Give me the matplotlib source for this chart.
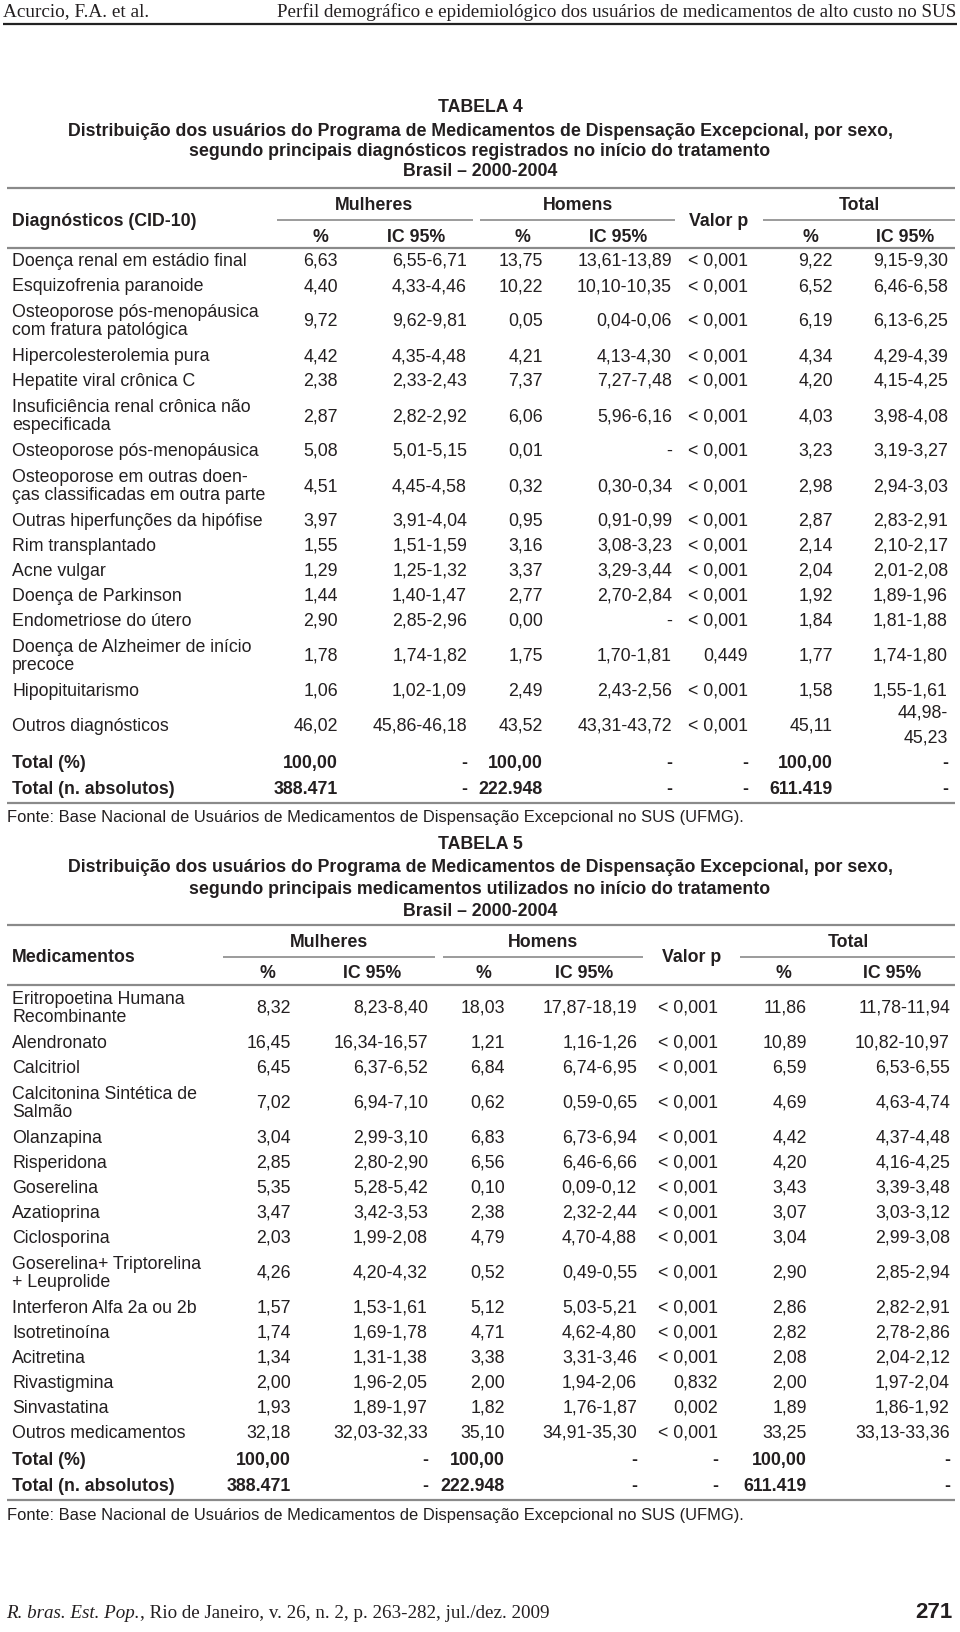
import matplotlib
matplotlib.use("Agg")
import matplotlib.pyplot as plt

# ---------------- Tabela 4 ----------------
diagnosticos = [
    "Doença renal em estádio final",
    "Esquizofrenia paranoide",
    "Osteoporose pós-menopáusica\ncom fratura patológica",
    "Hipercolesterolemia pura",
    "Hepatite viral crônica C",
    "Insuficiência renal crônica não\nespecificada",
    "Osteoporose pós-menopáusica",
    "Osteoporose em outras doen-\nças classificadas em outra parte",
    "Outras hiperfunções da hipófise",
    "Rim transplantado",
    "Acne vulgar",
    "Doença de Parkinson",
    "Endometriose do útero",
    "Doença de Alzheimer de início\nprecoce",
    "Hipopituitarismo",
    "Outros diagnósticos",
]
mulheres_pct4 = ["6,63", "4,40", "9,72", "4,42", "2,38", "2,87", "5,08", "4,51",
                 "3,97", "1,55", "1,29", "1,44", "2,90", "1,78", "1,06", "46,02"]
mulheres_ic4 = ["6,55-6,71", "4,33-4,46", "9,62-9,81", "4,35-4,48", "2,33-2,43",
                "2,82-2,92", "5,01-5,15", "4,45-4,58", "3,91-4,04", "1,51-1,59",
                "1,25-1,32", "1,40-1,47", "2,85-2,96", "1,74-1,82", "1,02-1,09",
                "45,86-46,18"]
homens_pct4 = ["13,75", "10,22", "0,05", "4,21", "7,37", "6,06", "0,01", "0,32",
               "0,95", "3,16", "3,37", "2,77", "0,00", "1,75", "2,49", "43,52"]
homens_ic4 = ["13,61-13,89", "10,10-10,35", "0,04-0,06", "4,13-4,30", "7,27-7,48",
              "5,96-6,16", "-", "0,30-0,34", "0,91-0,99", "3,08-3,23", "3,29-3,44",
              "2,70-2,84", "-", "1,70-1,81", "2,43-2,56", "43,31-43,72"]
valor_p4 = ["< 0,001"] * 13 + ["0,449", "< 0,001", "< 0,001"]
total_pct4 = ["9,22", "6,52", "6,19", "4,34", "4,20", "4,03", "3,23", "2,98",
              "2,87", "2,14", "2,04", "1,92", "1,84", "1,77", "1,58", "45,11"]
total_ic4 = ["9,15-9,30", "6,46-6,58", "6,13-6,25", "4,29-4,39", "4,15-4,25",
             "3,98-4,08", "3,19-3,27", "2,94-3,03", "2,83-2,91", "2,10-2,17",
             "2,01-2,08", "1,89-1,96", "1,81-1,88", "1,74-1,80", "1,55-1,61",
             "44,98-\n45,23"]
totais4 = [["Total (%)", "100,00", "-", "100,00", "-", "-", "100,00", "-"],
           ["Total (n. absolutos)", "388.471", "-", "222.948", "-", "-", "611.419", "-"]]

# ---------------- Tabela 5 ----------------
medicamentos = [
    "Eritropoetina Humana\nRecombinante",
    "Alendronato",
    "Calcitriol",
    "Calcitonina Sintética de\nSalmão",
    "Olanzapina",
    "Risperidona",
    "Goserelina",
    "Azatioprina",
    "Ciclosporina",
    "Goserelina+ Triptorelina\n+ Leuprolide",
    "Interferon Alfa 2a ou 2b",
    "Isotretinoína",
    "Acitretina",
    "Rivastigmina",
    "Sinvastatina",
    "Outros medicamentos",
]
mulheres_pct5 = ["8,32", "16,45", "6,45", "7,02", "3,04", "2,85", "5,35", "3,47",
                 "2,03", "4,26", "1,57", "1,74", "1,34", "2,00", "1,93", "32,18"]
mulheres_ic5 = ["8,23-8,40", "16,34-16,57", "6,37-6,52", "6,94-7,10", "2,99-3,10",
                "2,80-2,90", "5,28-5,42", "3,42-3,53", "1,99-2,08", "4,20-4,32",
                "1,53-1,61", "1,69-1,78", "1,31-1,38", "1,96-2,05", "1,89-1,97",
                "32,03-32,33"]
homens_pct5 = ["18,03", "1,21", "6,84", "0,62", "6,83", "6,56", "0,10", "2,38",
               "4,79", "0,52", "5,12", "4,71", "3,38", "2,00", "1,82", "35,10"]
homens_ic5 = ["17,87-18,19", "1,16-1,26", "6,74-6,95", "0,59-0,65", "6,73-6,94",
              "6,46-6,66", "0,09-0,12", "2,32-2,44", "4,70-4,88", "0,49-0,55",
              "5,03-5,21", "4,62-4,80", "3,31-3,46", "1,94-2,06", "1,76-1,87",
              "34,91-35,30"]
valor_p5 = ["< 0,001"] * 13 + ["0,832", "0,002", "< 0,001"]
total_pct5 = ["11,86", "10,89", "6,59", "4,69", "4,42", "4,20", "3,43", "3,07",
              "3,04", "2,90", "2,86", "2,82", "2,08", "2,00", "1,89", "33,25"]
total_ic5 = ["11,78-11,94", "10,82-10,97", "6,53-6,55", "4,63-4,74", "4,37-4,48",
             "4,16-4,25", "3,39-3,48", "3,03-3,12", "2,99-3,08", "2,85-2,94",
             "2,82-2,91", "2,78-2,86", "2,04-2,12", "1,97-2,04", "1,86-1,92",
             "33,13-33,36"]
totais5 = [["Total (%)", "100,00", "-", "100,00", "-", "-", "100,00", "-"],
           ["Total (n. absolutos)", "388.471", "-", "222.948", "-", "-", "611.419", "-"]]

# ---------------- figura ----------------
W, H = 960, 1633
fig = plt.figure(figsize=(W / 100, H / 100), dpi=100)
ax = fig.add_axes([0, 0, 1, 1])
ax.set_xlim(0, W)
ax.set_ylim(H, 0)
ax.axis("off")

SANS = "Liberation Sans"
SERIF = "Liberation Serif"
TXT = "#231f20"
RULE = "#8a8a8a"
FS = 12.8


def t(x, y, s, ha="left", bold=False, size=FS, **kw):
    ax.text(x, y, s, ha=ha, va="center", fontsize=size, family=SANS, color=TXT,
            fontweight="bold" if bold else "normal", linespacing=1.15, **kw)


def hline(y, x0=7, x1=955, lw=1.6, color=RULE):
    ax.plot([x0, x1], [y, y], color=color, lw=lw, solid_capstyle="butt")


# cabeçalho da página
ax.text(3, 12, "Acurcio, F.A. et al.", ha="left", va="center", fontsize=13.9,
        family=SERIF, color=TXT)
ax.text(956, 12, "Perfil demográfico e epidemiológico dos usuários de medicamentos de alto custo no SUS",
        ha="right", va="center", fontsize=13.7, family=SERIF, color=TXT)
hline(25, 3, 957, lw=1.6, color="#222222")


def tabela(y_titulo, titulo, y_top, rotulo_col, grupos, subs, cols, linhas, totais,
           y_fonte):
    # título
    for k, linha in enumerate(titulo):
        t(480, y_titulo[k], linha, ha="center", bold=True, size=12.8)
    hline(y_top)
    yg, ysr, ylab, ysub, yrule = y_top + 17, y_top + 32, y_top + 32, y_top + 48, y_top + 60
    t(12, ylab, rotulo_col, bold=True)
    for nome, cx, x0, x1 in grupos:
        if x0 is None:
            t(cx, ylab, nome, ha="center", bold=True)
        else:
            t(cx, yg, nome, ha="center", bold=True)
            hline(ysr, x0, x1, lw=1.2)
    for nome, cx in subs:
        t(cx, ysub, nome, ha="center", bold=True)
    hline(yrule)

    y = yrule
    for row in linhas:
        h = 45 if any("\n" in c for c in row) else 25
        yc = y + h / 2
        t(12, yc, row[0])
        for k, val in enumerate(row[1:]):
            if "\n" in val:
                a, b = val.split("\n")
                t(cols[k], yc - 13, a, ha="right")
                t(cols[k], yc + 12, b, ha="right")
            else:
                t(cols[k], yc, val, ha="right")
        y += h
    y += 1
    for row in totais:
        yc = y + 13.2
        t(12, yc, row[0], bold=True)
        for k, val in enumerate(row[1:]):
            t(cols[k], yc, val, ha="right", bold=True)
        y += 26.5
    hline(y + 1)
    t(7, y_fonte, "Fonte: Base Nacional de Usuários de Medicamentos de Dispensação Excepcional no SUS (UFMG).",
      size=11.9)


linhas4 = list(zip(diagnosticos, mulheres_pct4, mulheres_ic4, homens_pct4, homens_ic4,
                   valor_p4, total_pct4, total_ic4))
tabela([108, 131, 152, 172],
       ["TABELA 4",
        "Distribuição dos usuários do Programa de Medicamentos de Dispensação Excepcional, por sexo,",
        "segundo principais diagnósticos registrados no início do tratamento",
        "Brasil – 2000-2004"],
       189, "Diagnósticos (CID-10)",
       [("Mulheres", 374, 277, 473), ("Homens", 578, 480, 675),
        ("Valor p", 719, None, None), ("Total", 859, 763, 955)],
       [("%", 320), ("IC 95%", 416), ("%", 522), ("IC 95%", 618), ("%", 810), ("IC 95%", 905)],
       [338, 467, 543, 672, 748, 833, 948],
       linhas4, totais4, 818)

linhas5 = list(zip(medicamentos, mulheres_pct5, mulheres_ic5, homens_pct5, homens_ic5,
                   valor_p5, total_pct5, total_ic5))
tabela([845, 868, 890, 912],
       ["TABELA 5",
        "Distribuição dos usuários do Programa de Medicamentos de Dispensação Excepcional, por sexo,",
        "segundo principais medicamentos utilizados no início do tratamento",
        "Brasil – 2000-2004"],
       926, "Medicamentos",
       [("Mulheres", 329, 223, 435), ("Homens", 543, 443, 643),
        ("Valor p", 692, None, None), ("Total", 848, 740, 955)],
       [("%", 267), ("IC 95%", 372), ("%", 483), ("IC 95%", 584), ("%", 783), ("IC 95%", 892)],
       [291, 428, 505, 637, 718, 807, 950],
       linhas5, totais5, 1516)

# rodapé
r = fig.canvas.get_renderer()
it = ax.text(6, 1614, "R. bras. Est. Pop.", ha="left", va="center", fontsize=13.7,
             family=SERIF, style="italic", color=TXT)
bb = it.get_window_extent(renderer=r)
x_end = ax.transData.inverted().transform((bb.x1, bb.y0))[0]
ax.text(x_end, 1614, ", Rio de Janeiro, v. 26, n. 2, p. 263-282, jul./dez. 2009", ha="left",
        va="center", fontsize=13.7, family=SERIF, color=TXT)
t(953, 1613, "271", ha="right", bold=True, size=16)

fig.savefig("out.png", dpi=100)
